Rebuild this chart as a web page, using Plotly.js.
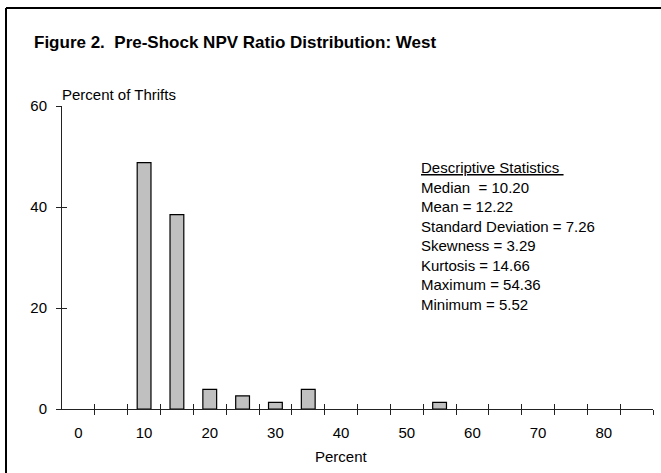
<!DOCTYPE html>
<html>
<head>
<meta charset="utf-8">
<script src="https://cdn.plot.ly/plotly-3.0.1.min.js"></script>
<style>
  html, body { margin: 0; padding: 0; background: #fff; overflow: hidden; }
  #chart { width: 661px; height: 473px; }
</style>
</head>
<body>
<div id="chart"></div>
<script>
// Histogram bins (centre of each 5-point bin) and share of thrifts in each
const binCenters = [10, 15, 20, 25, 30, 35, 55];
const percentOfThrifts = [48.8, 38.5, 3.9, 2.6, 1.3, 3.9, 1.3];

// Axis ticks
const xLabelVals = [0, 10, 20, 30, 40, 50, 60, 70, 80];
const xTickVals = [2.5, 7.5, 12.5, 17.5, 22.5, 27.5, 32.5, 37.5, 42.5, 47.5,
                   52.5, 57.5, 62.5, 67.5, 72.5, 77.5, 82.5, 87.5];
const yTickVals = [0, 20, 40, 60];

// Summary statistics box
const statsHeading = 'Descriptive Statistics\u00a0';
const statsLines = [
  'Median\u00a0\u00a0= 10.20',
  'Mean = 12.22',
  'Standard Deviation = 7.26',
  'Skewness = 3.29',
  'Kurtosis = 14.66',
  'Maximum = 54.36',
  'Minimum = 5.52'
];

const W = 661, H = 473;
const M = { l: 62, r: 8, t: 106, b: 64 };
const plotW = W - M.l - M.r, plotH = H - M.t - M.b;
const px2paperX = px => (px - M.l) / plotW;
const px2paperY = py => (H - M.b - py) / plotH;

const FONT = 'Liberation Sans, Arial, Helvetica, sans-serif';
const AX = '#222';

const traces = [
  {
    type: 'bar',
    x: binCenters,
    y: percentOfThrifts,
    width: 2.1,
    marker: { color: '#c0c0c0', line: { color: '#000', width: 1.2 } },
    hoverinfo: 'x+y'
  },
  // empty traces so the overlay axes (tick marks on both sides) get drawn
  { type: 'scatter', x: [null], y: [null], xaxis: 'x2', yaxis: 'y', hoverinfo: 'skip', showlegend: false },
  { type: 'scatter', x: [null], y: [null], xaxis: 'x3', yaxis: 'y', hoverinfo: 'skip', showlegend: false },
  { type: 'scatter', x: [null], y: [null], xaxis: 'x', yaxis: 'y2', hoverinfo: 'skip', showlegend: false }
];

const xRange = [-2.5, 87.5];
const yRange = [0, 60];

// figure frame: left and top edges of the surrounding box
const frameLeft = px2paperX(6), frameTop = px2paperY(8);
const frameShapes = [
  { type: 'line', xref: 'paper', yref: 'paper', x0: frameLeft, x1: frameLeft,
    y0: frameTop, y1: px2paperY(H + 5), line: { color: '#000', width: 2 } },
  { type: 'line', xref: 'paper', yref: 'paper', x0: frameLeft, x1: px2paperX(W + 5),
    y0: frameTop, y1: frameTop, line: { color: '#000', width: 2 } }
];

const layout = {
  width: W, height: H,
  margin: M,
  paper_bgcolor: '#fff', plot_bgcolor: '#fff',
  showlegend: false,
  font: { family: FONT, size: 15, color: '#000' },
  title: {
    text: '<b>Figure 2.\u00a0\u00a0Pre-Shock NPV Ratio Distribution: West</b>',
    font: { family: FONT, size: 17, color: '#000' },
    x: 34 / W, xanchor: 'left', xref: 'container',
    y: 1 - 42 / H, yanchor: 'middle', yref: 'container'
  },
  xaxis: {
    range: xRange, autorange: false, fixedrange: true,
    tickmode: 'array', tickvals: xLabelVals, ticktext: xLabelVals.map(String),
    ticks: '', showgrid: false, zeroline: false,
    showline: true, linecolor: AX, linewidth: 1,
    tickfont: { family: FONT, size: 15, color: '#000' },
    ticklabelstandoff: 10
  },
  xaxis2: {
    overlaying: 'x', anchor: 'y', side: 'bottom',
    range: xRange, autorange: false, fixedrange: true,
    tickmode: 'array', tickvals: xTickVals, showticklabels: false,
    ticks: 'outside', ticklen: 5, tickwidth: 1, tickcolor: AX,
    showgrid: false, zeroline: false, showline: false
  },
  xaxis3: {
    overlaying: 'x', anchor: 'y', side: 'bottom',
    range: xRange, autorange: false, fixedrange: true,
    tickmode: 'array', tickvals: xTickVals, showticklabels: false,
    ticks: 'inside', ticklen: 5, tickwidth: 1, tickcolor: AX,
    showgrid: false, zeroline: false, showline: false
  },
  yaxis: {
    range: yRange, autorange: false, fixedrange: true,
    tickmode: 'array', tickvals: yTickVals,
    ticks: 'outside', ticklen: 5, tickwidth: 1, tickcolor: AX,
    showgrid: false, zeroline: false,
    showline: true, linecolor: AX, linewidth: 1,
    tickfont: { family: FONT, size: 15, color: '#000' },
    ticklabelstandoff: 6
  },
  yaxis2: {
    overlaying: 'y', anchor: 'x', side: 'left',
    range: yRange, autorange: false, fixedrange: true,
    tickmode: 'array', tickvals: yTickVals, showticklabels: false,
    ticks: 'inside', ticklen: 5, tickwidth: 1, tickcolor: AX,
    showgrid: false, zeroline: false, showline: false
  },
  shapes: frameShapes,
  annotations: [
    {
      text: 'Percent of Thrifts',
      xref: 'paper', yref: 'paper',
      x: px2paperX(60), y: px2paperY(95),
      xanchor: 'left', yanchor: 'middle', showarrow: false,
      font: { family: FONT, size: 15, color: '#000' }
    },
    {
      text: 'Percent',
      xref: 'paper', yref: 'paper',
      x: px2paperX(341), y: px2paperY(456),
      xanchor: 'center', yanchor: 'middle', showarrow: false,
      font: { family: FONT, size: 15, color: '#000' }
    },
    {
      text: ['<u>' + statsHeading + '</u>'].concat(statsLines).join('<br>'),
      xref: 'paper', yref: 'paper',
      x: px2paperX(419), y: px2paperY(157),
      xanchor: 'left', yanchor: 'top', align: 'left', showarrow: false,
      font: { family: FONT, size: 15, color: '#000' }
    }
  ]
};

Plotly.newPlot('chart', traces, layout, { staticPlot: true, displayModeBar: false });
</script>
</body>
</html>
